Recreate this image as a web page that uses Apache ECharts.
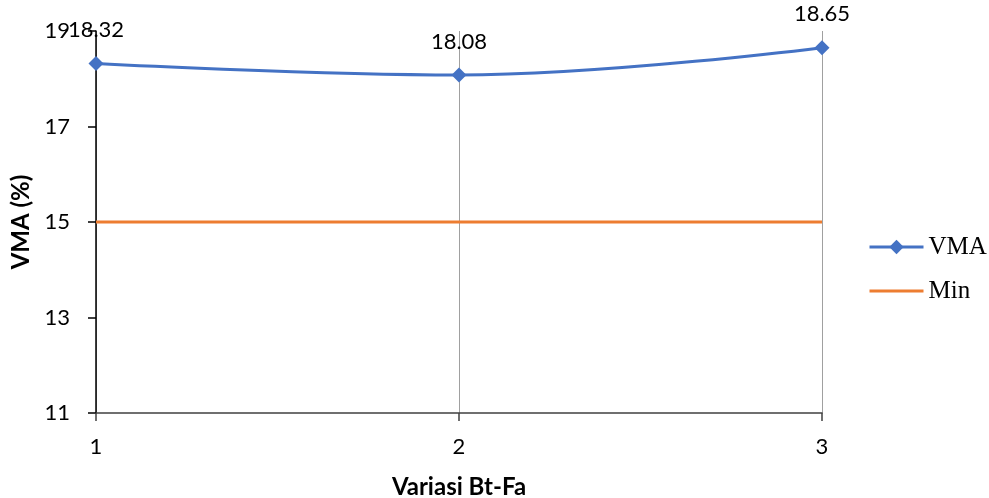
<!DOCTYPE html>
<html>
<head>
<meta charset="utf-8">
<script src="https://cdn.jsdelivr.net/npm/echarts@6/dist/echarts.min.js"></script>
<style>html,body{margin:0;padding:0;background:#fff}#c{width:989px;height:498px}</style>
</head>
<body>
<div id="c"></div>
<script>
const categories = [1, 2, 3];
const vmaValues = [18.32, 18.08, 18.65];
const minValues = [15, 15, 15];
const yTicks = [11, 13, 15, 17, 19];

const chart = echarts.init(document.getElementById('c'));
const font = 'Lato, "Liberation Sans", sans-serif';
chart.setOption({
  animation: false,
  backgroundColor: '#fff',
  grid: { left: 96, right: 167, top: 31, bottom: 85, containLabel: false, outerBoundsMode: 'none' },
  legend: {
    orient: 'vertical',
    left: 868, top: 234, padding: 0,
    itemWidth: 54, itemHeight: 18, itemGap: 18,
    lineStyle: { width: 3 },
    textStyle: { fontFamily: '"Liberation Serif", "Times New Roman", serif', fontSize: 25, lineHeight: 26, color: '#000' },
    data: [
      { name: 'VMA' },
      { name: 'Min', itemStyle: { opacity: 0 } }
    ]
  },
  xAxis: {
    type: 'value', min: categories[0], max: categories[categories.length - 1], interval: 1,
    name: 'Variasi Bt-Fa', nameLocation: 'middle', nameGap: 62,
    nameTextStyle: { fontFamily: font, fontWeight: 'bold', fontSize: 24, color: '#000' },
    axisLine: { lineStyle: { color: '#404040', width: 1.5 } },
    axisTick: { show: true, length: 8, lineStyle: { color: '#404040', width: 1.5 } },
    axisLabel: { fontFamily: font, fontSize: 22, color: '#000', margin: 23 },
    splitLine: { show: true, lineStyle: { color: '#a0a0a0', width: 1 } }
  },
  yAxis: {
    type: 'value', min: yTicks[0], max: yTicks[yTicks.length - 1], interval: 2,
    name: 'VMA (%)', nameLocation: 'middle', nameGap: 62,
    nameTextStyle: { fontFamily: font, fontWeight: 'bold', fontSize: 24, color: '#000' },
    axisLine: { show: true, lineStyle: { color: '#000', width: 1.5 } },
    axisTick: { show: true, length: 8, lineStyle: { color: '#000', width: 1.5 } },
    axisLabel: { fontFamily: font, fontSize: 22, color: '#000', margin: 26 },
    splitLine: { show: false }
  },
  series: [
    {
      name: 'VMA', type: 'line', smooth: 0.4,
      data: categories.map((c, i) => [c, vmaValues[i]]),
      symbol: 'diamond', symbolSize: 15,
      lineStyle: { color: '#4472C4', width: 3 },
      itemStyle: { color: '#4472C4' },
      label: { show: true, position: 'top', distance: 15, fontFamily: font, fontSize: 22, color: '#000',
        formatter: p => p.value[1].toFixed(2) },
      z: 3
    },
    {
      name: 'Min', type: 'line',
      data: categories.map((c, i) => [c, minValues[i]]),
      symbol: 'none', showSymbol: false,
      lineStyle: { color: '#ED7D31', width: 3 },
      itemStyle: { color: '#ED7D31' },
      z: 2
    }
  ]
});
</script>
</body>
</html>
